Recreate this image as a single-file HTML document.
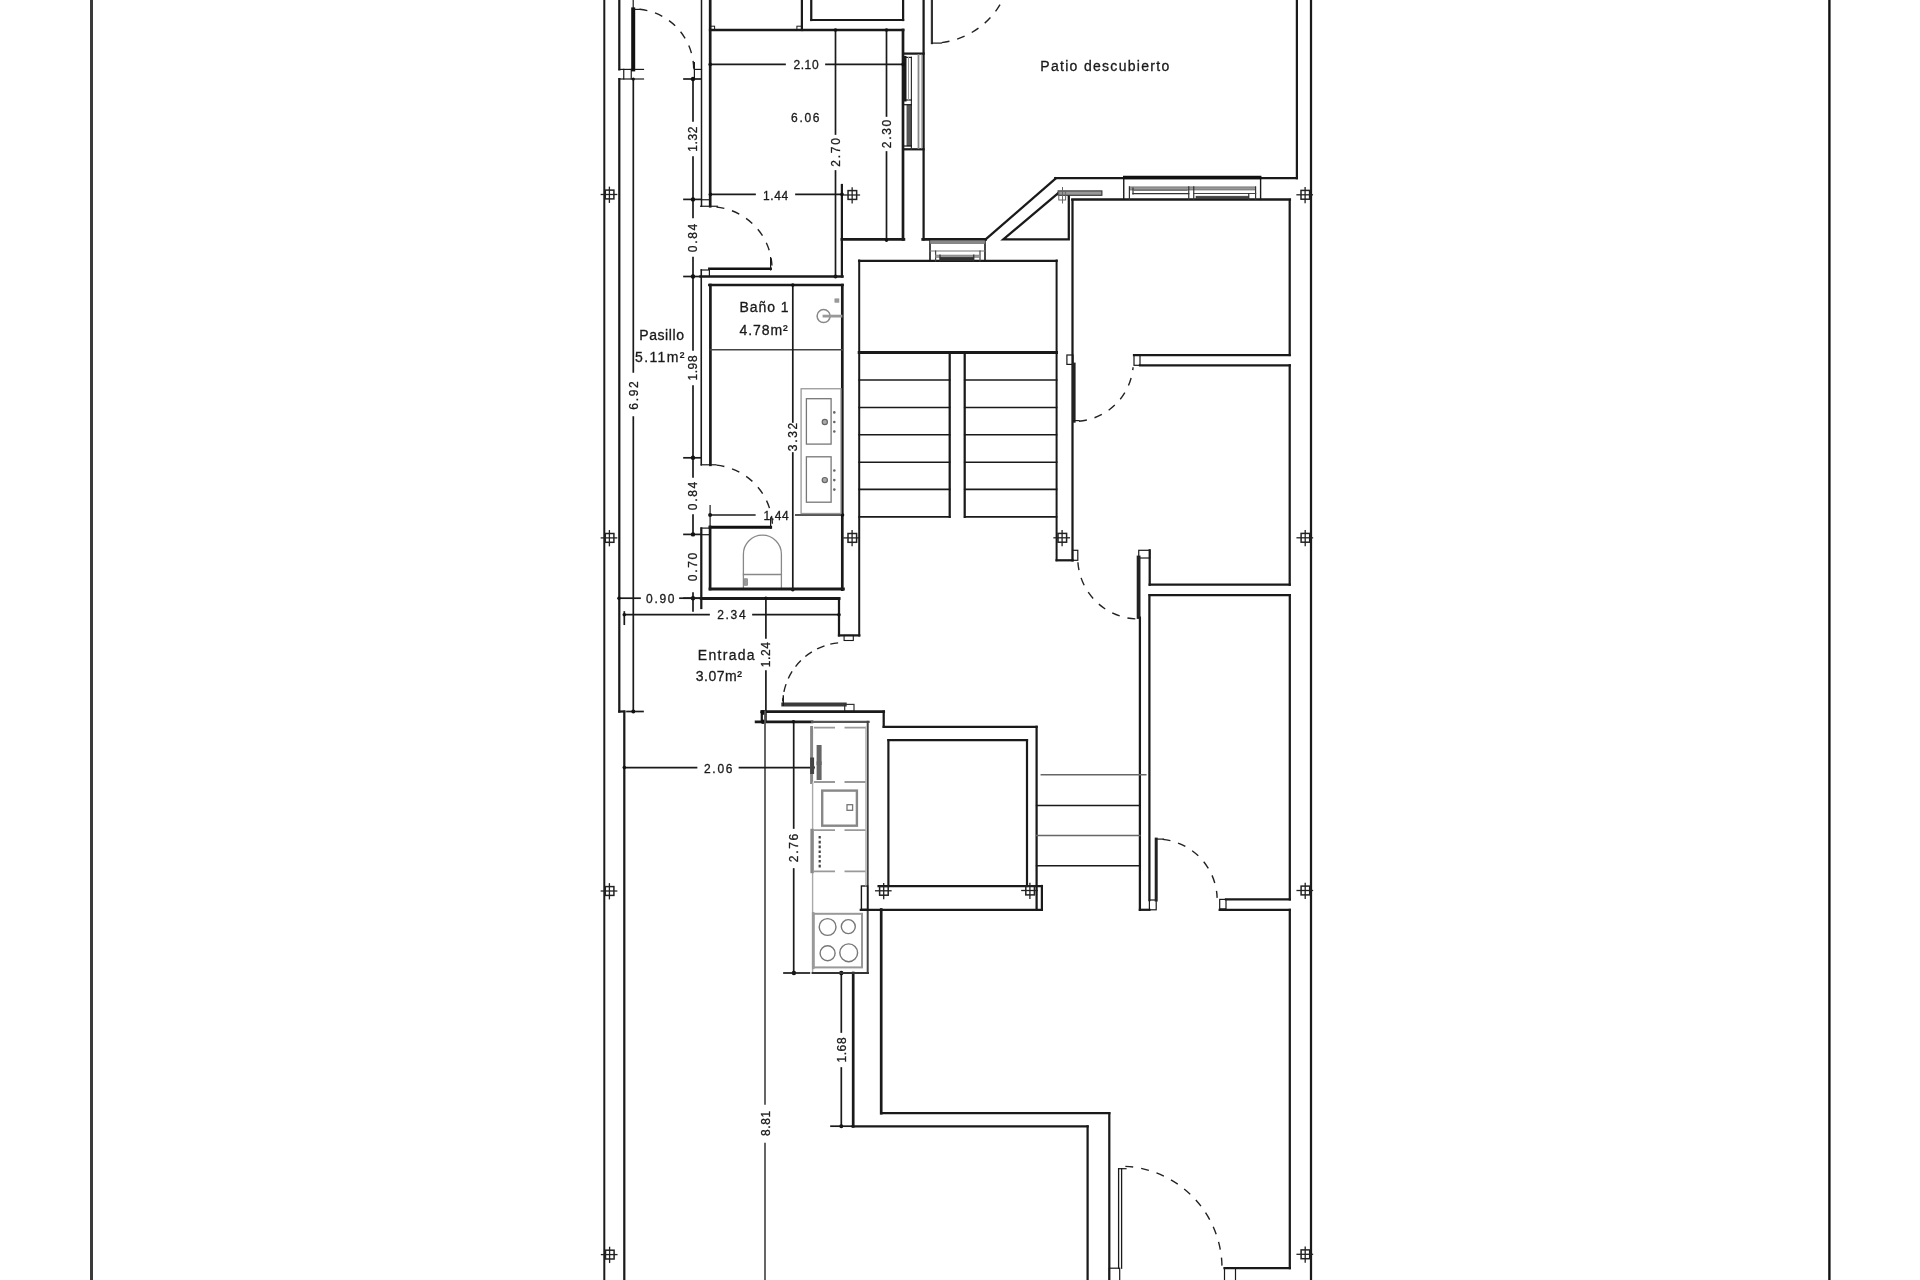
<!DOCTYPE html>
<html lang="es"><head><meta charset="utf-8"><title>Plano</title>
<style>
html,body{margin:0;padding:0;background:#fff;}
body{width:1920px;height:1280px;overflow:hidden;}
svg{display:block;font-family:"Liberation Sans",sans-serif;}
line,path{stroke-linecap:square;}
text{stroke:#1a1a1a;stroke-width:.3px;}
</style></head><body>
<svg width="1920" height="1280" viewBox="0 0 1920 1280" style="will-change:transform">
<rect width="1920" height="1280" fill="#fff"/>
<line x1="91.5" y1="0" x2="91.5" y2="1280" stroke="#3a3a3a" stroke-width="3"/>
<line x1="1829.4" y1="0" x2="1829.4" y2="1280" stroke="#111" stroke-width="2.4"/>
<line x1="604.3" y1="0" x2="604.3" y2="1280" stroke="#1a1a1a" stroke-width="2.0"/>
<line x1="619.3" y1="0" x2="619.3" y2="69.4" stroke="#1a1a1a" stroke-width="2.25"/>
<line x1="619.3" y1="79" x2="619.3" y2="711.5" stroke="#1a1a1a" stroke-width="2.25"/>
<line x1="619.2" y1="69.4" x2="643.5" y2="69.4" stroke="#1a1a1a" stroke-width="1.2"/>
<line x1="619.2" y1="79" x2="643.5" y2="79" stroke="#1a1a1a" stroke-width="1.2"/>
<line x1="623.75" y1="69.4" x2="623.75" y2="79" stroke="#1a1a1a" stroke-width="1.2"/>
<line x1="631.25" y1="69.4" x2="631.25" y2="79" stroke="#1a1a1a" stroke-width="1.2"/>
<line x1="633.2" y1="0" x2="633.2" y2="9.4" stroke="#1a1a1a" stroke-width="1.2"/>
<line x1="633.2" y1="9.4" x2="633.2" y2="69.4" stroke="#111" stroke-width="4"/>
<line x1="633.2" y1="9.4" x2="640" y2="9.4" stroke="#1a1a1a" stroke-width="1.2"/>
<path d="M639.52 9.23A60.5 60.5 0 0 1 693.70 69.40" fill="none" stroke="#222" stroke-width="1.4" stroke-dasharray="8 8" style="stroke-linecap:butt"/>
<line x1="619.3" y1="711.5" x2="624.3" y2="711.5" stroke="#1a1a1a" stroke-width="2.25"/>
<line x1="624.3" y1="711.5" x2="624.3" y2="1280" stroke="#1a1a1a" stroke-width="2.25"/>
<line x1="633.3" y1="79" x2="633.3" y2="372" stroke="#1a1a1a" stroke-width="1.7"/>
<line x1="633.3" y1="417" x2="633.3" y2="711.5" stroke="#1a1a1a" stroke-width="1.7"/>
<line x1="627" y1="711.5" x2="643" y2="711.5" stroke="#1a1a1a" stroke-width="1.7"/>
<text x="633.3" y="395.5" dy="4.32" dx="0.85" font-size="12" text-anchor="middle" fill="#1a1a1a" font-weight="normal" letter-spacing="1.7" transform="rotate(-90 633.3 395.5)">6.92</text>
<circle cx="633.3" cy="79" r="1.6" fill="#111"/>
<circle cx="633.3" cy="711.5" r="2" fill="#111"/>
<line x1="701.5" y1="0" x2="701.5" y2="206.25" stroke="#1a1a1a" stroke-width="1.5"/>
<line x1="710.2" y1="0" x2="710.2" y2="206.25" stroke="#1a1a1a" stroke-width="2.7"/>
<line x1="700.6" y1="206.25" x2="717.5" y2="206.25" stroke="#1a1a1a" stroke-width="1.2"/>
<line x1="701.5" y1="199.75" x2="710.2" y2="199.75" stroke="#1a1a1a" stroke-width="1.2"/>
<line x1="694.4" y1="69.4" x2="701.5" y2="69.4" stroke="#1a1a1a" stroke-width="1.2"/>
<line x1="694.4" y1="62.5" x2="694.4" y2="79" stroke="#1a1a1a" stroke-width="1.2"/>
<line x1="710.2" y1="30" x2="903.1" y2="30" stroke="#1a1a1a" stroke-width="2.7"/>
<rect x="710.2" y="26.2" width="4.4" height="3.8" fill="none" stroke="#1a1a1a" stroke-width="1"/>
<rect x="796.9" y="26.2" width="5.0" height="3.8" fill="none" stroke="#1a1a1a" stroke-width="1"/>
<line x1="801.9" y1="0" x2="801.9" y2="30" stroke="#1a1a1a" stroke-width="2.25"/>
<line x1="811.25" y1="0" x2="811.25" y2="20" stroke="#1a1a1a" stroke-width="2.25"/>
<line x1="811.25" y1="20" x2="903.1" y2="20" stroke="#1a1a1a" stroke-width="2.2"/>
<line x1="903.1" y1="0" x2="903.1" y2="20" stroke="#1a1a1a" stroke-width="2.25"/>
<line x1="903.0" y1="30" x2="903.0" y2="239.4" stroke="#1a1a1a" stroke-width="2.7"/>
<line x1="841.9" y1="239.4" x2="903.9" y2="239.4" stroke="#1a1a1a" stroke-width="2.7"/>
<line x1="922.7" y1="239.4" x2="985.6" y2="239.4" stroke="#1a1a1a" stroke-width="2.7"/>
<line x1="841.9" y1="185" x2="841.9" y2="276.5" stroke="#1a1a1a" stroke-width="2.25"/>
<line x1="923.6" y1="0" x2="923.6" y2="239.5" stroke="#1a1a1a" stroke-width="2.25"/>
<line x1="903.1" y1="53.6" x2="923.6" y2="53.6" stroke="#1a1a1a" stroke-width="2.25"/>
<line x1="903.1" y1="149.3" x2="923.6" y2="149.3" stroke="#1a1a1a" stroke-width="2.25"/>
<line x1="905.0" y1="57.4" x2="905.0" y2="100" stroke="#1a1a1a" stroke-width="3"/>
<rect x="906.9" y="104.7" width="4.5" height="41.3" fill="#555" stroke="#444" stroke-width="0.5"/>
<line x1="911.4" y1="57.4" x2="911.4" y2="149.3" stroke="#333" stroke-width="1.2"/>
<line x1="904" y1="57.4" x2="911.4" y2="57.4" stroke="#1a1a1a" stroke-width="1.2"/>
<line x1="903.1" y1="100" x2="911.4" y2="100" stroke="#1a1a1a" stroke-width="1.2"/>
<line x1="903.1" y1="104.7" x2="911.4" y2="104.7" stroke="#1a1a1a" stroke-width="1.2"/>
<line x1="903.1" y1="146" x2="911.4" y2="146" stroke="#1a1a1a" stroke-width="1.2"/>
<line x1="908.5" y1="57.4" x2="908.5" y2="100" stroke="#999" stroke-width="1"/>
<line x1="918.5" y1="55" x2="918.5" y2="148" stroke="#888" stroke-width="1.8"/>
<line x1="921.4" y1="55" x2="921.4" y2="148" stroke="#999" stroke-width="0.8"/>
<line x1="710.2" y1="64.4" x2="785" y2="64.4" stroke="#1a1a1a" stroke-width="1.7"/>
<line x1="826" y1="64.4" x2="903.1" y2="64.4" stroke="#1a1a1a" stroke-width="1.7"/>
<text x="806" y="68.8" dx="0.3" font-size="12" text-anchor="middle" fill="#1a1a1a" font-weight="normal" letter-spacing="0.6">2.10</text>
<circle cx="710.2" cy="64.4" r="1.8" fill="#111"/>
<circle cx="903.1" cy="64.4" r="1.8" fill="#111"/>
<line x1="835.5" y1="30" x2="835.5" y2="134" stroke="#1a1a1a" stroke-width="1.7"/>
<line x1="835.5" y1="171" x2="835.5" y2="276.5" stroke="#1a1a1a" stroke-width="1.7"/>
<text x="835.5" y="152.4" dy="4.32" dx="0.85" font-size="12" text-anchor="middle" fill="#1a1a1a" font-weight="normal" letter-spacing="1.7" transform="rotate(-90 835.5 152.4)">2.70</text>
<line x1="886.5" y1="30" x2="886.5" y2="116" stroke="#1a1a1a" stroke-width="1.7"/>
<line x1="886.5" y1="152" x2="886.5" y2="241" stroke="#1a1a1a" stroke-width="1.7"/>
<text x="886.5" y="134" dy="4.32" dx="0.85" font-size="12" text-anchor="middle" fill="#1a1a1a" font-weight="normal" letter-spacing="1.7" transform="rotate(-90 886.5 134)">2.30</text>
<circle cx="835.5" cy="30" r="1.8" fill="#111"/>
<circle cx="886.5" cy="30" r="1.8" fill="#111"/>
<circle cx="835.5" cy="276.5" r="2" fill="#111"/>
<circle cx="886.5" cy="240" r="1.8" fill="#111"/>
<text x="805.3" y="122.4" dx="0.85" font-size="12" text-anchor="middle" fill="#1a1a1a" font-weight="normal" letter-spacing="1.7">6.06</text>
<line x1="710.4" y1="194.4" x2="755" y2="194.4" stroke="#1a1a1a" stroke-width="1.7"/>
<line x1="796" y1="194.4" x2="842.5" y2="194.4" stroke="#1a1a1a" stroke-width="1.7"/>
<text x="775.6" y="199.6" dx="0.3" font-size="12" text-anchor="middle" fill="#1a1a1a" font-weight="normal" letter-spacing="0.6">1.44</text>
<circle cx="710.4" cy="194.4" r="1.8" fill="#111"/>
<circle cx="842" cy="194.4" r="1.8" fill="#111"/>
<line x1="693" y1="79" x2="693" y2="121" stroke="#1a1a1a" stroke-width="1.7"/>
<line x1="693" y1="157" x2="693" y2="199.4" stroke="#1a1a1a" stroke-width="1.7"/>
<line x1="693" y1="199.4" x2="693" y2="217.5" stroke="#1a1a1a" stroke-width="1.7"/>
<line x1="693" y1="257.5" x2="693" y2="276.5" stroke="#1a1a1a" stroke-width="1.7"/>
<line x1="693" y1="276.5" x2="693" y2="350" stroke="#1a1a1a" stroke-width="1.7"/>
<line x1="693" y1="386" x2="693" y2="457.8" stroke="#1a1a1a" stroke-width="1.7"/>
<line x1="693" y1="457.8" x2="693" y2="477" stroke="#1a1a1a" stroke-width="1.7"/>
<line x1="693" y1="515" x2="693" y2="534.4" stroke="#1a1a1a" stroke-width="1.7"/>
<line x1="693" y1="593" x2="693" y2="611" stroke="#1a1a1a" stroke-width="1.7"/>
<line x1="684" y1="79" x2="701" y2="79" stroke="#1a1a1a" stroke-width="1.7"/>
<circle cx="693" cy="79" r="2.2" fill="#111"/>
<line x1="684" y1="199.4" x2="701" y2="199.4" stroke="#1a1a1a" stroke-width="1.7"/>
<circle cx="693" cy="199.4" r="2.2" fill="#111"/>
<line x1="684" y1="276.5" x2="701" y2="276.5" stroke="#1a1a1a" stroke-width="1.7"/>
<circle cx="693" cy="276.5" r="2.2" fill="#111"/>
<line x1="684" y1="457.8" x2="701" y2="457.8" stroke="#1a1a1a" stroke-width="1.7"/>
<circle cx="693" cy="457.8" r="2.2" fill="#111"/>
<line x1="684" y1="534.4" x2="701" y2="534.4" stroke="#1a1a1a" stroke-width="1.7"/>
<circle cx="693" cy="534.4" r="2.2" fill="#111"/>
<line x1="684" y1="598.2" x2="701" y2="598.2" stroke="#1a1a1a" stroke-width="1.7"/>
<circle cx="693" cy="598.2" r="2.2" fill="#111"/>
<text x="693" y="139.2" dy="4.32" dx="0.3" font-size="12" text-anchor="middle" fill="#1a1a1a" font-weight="normal" letter-spacing="0.6" transform="rotate(-90 693 139.2)">1.32</text>
<text x="693" y="238" dy="4.32" dx="0.85" font-size="12" text-anchor="middle" fill="#1a1a1a" font-weight="normal" letter-spacing="1.7" transform="rotate(-90 693 238)">0.84</text>
<text x="693" y="368" dy="4.32" dx="0.3" font-size="12" text-anchor="middle" fill="#1a1a1a" font-weight="normal" letter-spacing="0.6" transform="rotate(-90 693 368)">1.98</text>
<text x="693" y="496" dy="4.32" dx="0.85" font-size="12" text-anchor="middle" fill="#1a1a1a" font-weight="normal" letter-spacing="1.7" transform="rotate(-90 693 496)">0.84</text>
<text x="693" y="567" dy="4.32" dx="0.85" font-size="12" text-anchor="middle" fill="#1a1a1a" font-weight="normal" letter-spacing="1.7" transform="rotate(-90 693 567)">0.70</text>
<path d="M716.48 207.09A62 62 0 0 1 771.92 265.51" fill="none" stroke="#222" stroke-width="1.4" stroke-dasharray="8 8" style="stroke-linecap:butt"/>
<line x1="709.4" y1="268.75" x2="770.6" y2="268.75" stroke="#111" stroke-width="2.6"/>
<line x1="770.6" y1="257.5" x2="770.6" y2="270" stroke="#1a1a1a" stroke-width="1.2"/>
<line x1="701.25" y1="270" x2="709.4" y2="270" stroke="#1a1a1a" stroke-width="1.2"/>
<line x1="709.4" y1="268.75" x2="709.4" y2="276.5" stroke="#1a1a1a" stroke-width="1.2"/>
<line x1="700.6" y1="276.5" x2="842.5" y2="276.5" stroke="#1a1a1a" stroke-width="2.6"/>
<line x1="701.25" y1="270" x2="701.25" y2="464.8" stroke="#1a1a1a" stroke-width="1.6"/>
<line x1="709.4" y1="285" x2="842.5" y2="285" stroke="#1a1a1a" stroke-width="2.6"/>
<line x1="710.4" y1="285" x2="710.4" y2="464.8" stroke="#1a1a1a" stroke-width="2.7"/>
<line x1="701.25" y1="464.8" x2="716" y2="464.8" stroke="#1a1a1a" stroke-width="1.2"/>
<line x1="842.3" y1="285" x2="842.3" y2="589.7" stroke="#1a1a1a" stroke-width="2.7"/>
<line x1="710.4" y1="349.8" x2="842.5" y2="349.8" stroke="#444" stroke-width="1.4"/>
<line x1="792.8" y1="285" x2="792.8" y2="422" stroke="#1a1a1a" stroke-width="1.7"/>
<line x1="792.8" y1="453" x2="792.8" y2="589.7" stroke="#1a1a1a" stroke-width="1.7"/>
<text x="792.8" y="437" dy="4.32" dx="0.85" font-size="12" text-anchor="middle" fill="#1a1a1a" font-weight="normal" letter-spacing="1.7" transform="rotate(-90 792.8 437)">3.32</text>
<circle cx="792.8" cy="285" r="1.8" fill="#111"/>
<circle cx="792.8" cy="589.7" r="1.8" fill="#111"/>
<line x1="710.1" y1="515" x2="754.7" y2="515" stroke="#555" stroke-width="1.9"/>
<line x1="795.9" y1="515" x2="842.5" y2="515" stroke="#555" stroke-width="1.9"/>
<text x="776.2" y="520.1" dx="0.3" font-size="12" text-anchor="middle" fill="#1a1a1a" font-weight="normal" letter-spacing="0.6">1.44</text>
<circle cx="710.1" cy="515" r="2" fill="#111"/>
<circle cx="842.5" cy="515" r="1.8" fill="#111"/>
<circle cx="823.6" cy="316.1" r="6.5" fill="none" stroke="#888" stroke-width="1.5"/>
<line x1="824" y1="316.1" x2="841" y2="316.1" stroke="#999" stroke-width="2.8"/>
<rect x="834.8" y="298.75" width="4.2" height="3.75" fill="#999" stroke="#999" stroke-width="0.5"/>
<rect x="801.1" y="388.75" width="39.9" height="124.75" fill="none" stroke="#999" stroke-width="1.3"/>
<rect x="806.4" y="398.7" width="24.7" height="45.4" fill="none" stroke="#777" stroke-width="1.3"/>
<circle cx="824.8" cy="422.0" r="2.6" fill="#aaa" stroke="#666" stroke-width="1.2"/>
<circle cx="834.3" cy="412.4" r="1.3" fill="#666"/>
<circle cx="834.3" cy="422.0" r="1.3" fill="#666"/>
<circle cx="834.3" cy="431.5" r="1.3" fill="#666"/>
<rect x="806.4" y="456.8" width="24.7" height="45.4" fill="none" stroke="#777" stroke-width="1.3"/>
<circle cx="824.8" cy="480.1" r="2.6" fill="#aaa" stroke="#666" stroke-width="1.2"/>
<circle cx="834.3" cy="470.5" r="1.3" fill="#666"/>
<circle cx="834.3" cy="480.1" r="1.3" fill="#666"/>
<circle cx="834.3" cy="489.6" r="1.3" fill="#666"/>
<path d="M743.4 588.6V554.2A19 19 0 0 1 781.4 554.2V588.6" fill="none" stroke="#888" stroke-width="1.3"/>
<line x1="743.4" y1="574.5" x2="781.4" y2="574.5" stroke="#888" stroke-width="1.3"/>
<rect x="744.4" y="578.75" width="3.2" height="6.55" fill="#999" stroke="#777" stroke-width="0.6"/>
<text x="739.6" y="311.9" font-size="14" text-anchor="start" fill="#1a1a1a" font-weight="normal" letter-spacing="0.9">Baño 1</text>
<text x="739.6" y="335.2" font-size="14" text-anchor="start" fill="#1a1a1a" font-weight="normal" letter-spacing="0.9">4.78m²</text>
<text x="639.2" y="340.2" font-size="14" text-anchor="start" fill="#1a1a1a" font-weight="normal" letter-spacing="0.6">Pasillo</text>
<text x="635" y="362" font-size="14" text-anchor="start" fill="#1a1a1a" font-weight="normal" letter-spacing="1.4">5.11m²</text>
<path d="M716.53 465.14A62.5 62.5 0 0 1 772.41 524.03" fill="none" stroke="#222" stroke-width="1.4" stroke-dasharray="8 8" style="stroke-linecap:butt"/>
<line x1="710.1" y1="527.2" x2="770.6" y2="527.2" stroke="#111" stroke-width="3"/>
<line x1="701.3" y1="528.1" x2="710" y2="528.1" stroke="#1a1a1a" stroke-width="1.2"/>
<line x1="770.6" y1="517.8" x2="770.6" y2="528.1" stroke="#1a1a1a" stroke-width="1.2"/>
<line x1="701.3" y1="534.7" x2="710" y2="534.7" stroke="#1a1a1a" stroke-width="1.2"/>
<line x1="701.3" y1="528.4" x2="701.3" y2="608" stroke="#1a1a1a" stroke-width="2.25"/>
<line x1="710.1" y1="505.6" x2="710.1" y2="527" stroke="#1a1a1a" stroke-width="1.2"/>
<line x1="710.1" y1="527" x2="710.1" y2="589" stroke="#1a1a1a" stroke-width="2.7"/>
<line x1="710.1" y1="589" x2="843.3" y2="589" stroke="#1a1a1a" stroke-width="3"/>
<line x1="701.3" y1="598.4" x2="839" y2="598.4" stroke="#1a1a1a" stroke-width="3"/>
<line x1="839" y1="598.4" x2="839" y2="635.4" stroke="#1a1a1a" stroke-width="2.25"/>
<line x1="839" y1="635.4" x2="859.3" y2="635.4" stroke="#1a1a1a" stroke-width="2.25"/>
<line x1="859.2" y1="260.6" x2="859.2" y2="635.4" stroke="#1a1a1a" stroke-width="2"/>
<rect x="844.1" y="635.4" width="9.2" height="5.1" fill="none" stroke="#1a1a1a" stroke-width="1.1"/>
<line x1="619" y1="598.2" x2="640" y2="598.2" stroke="#1a1a1a" stroke-width="1.7"/>
<line x1="680" y1="598.2" x2="701.3" y2="598.2" stroke="#1a1a1a" stroke-width="1.7"/>
<text x="660.3" y="602.6" dx="0.85" font-size="12" text-anchor="middle" fill="#1a1a1a" font-weight="normal" letter-spacing="1.7">0.90</text>
<circle cx="619" cy="598.2" r="1.8" fill="#111"/>
<line x1="624.3" y1="614.7" x2="709" y2="614.7" stroke="#1a1a1a" stroke-width="1.7"/>
<line x1="753" y1="614.7" x2="839" y2="614.7" stroke="#1a1a1a" stroke-width="1.7"/>
<text x="731.4" y="619.2" dx="0.85" font-size="12" text-anchor="middle" fill="#1a1a1a" font-weight="normal" letter-spacing="1.7">2.34</text>
<line x1="624.3" y1="612" x2="624.3" y2="624.2" stroke="#1a1a1a" stroke-width="1.7"/>
<circle cx="624.3" cy="614.7" r="1.8" fill="#111"/>
<circle cx="839" cy="614.7" r="1.8" fill="#111"/>
<line x1="765.9" y1="598.2" x2="765.9" y2="638" stroke="#1a1a1a" stroke-width="1.7"/>
<line x1="765.9" y1="671" x2="765.9" y2="721.8" stroke="#1a1a1a" stroke-width="1.7"/>
<text x="765.9" y="654.7" dy="4.32" dx="0.3" font-size="12" text-anchor="middle" fill="#1a1a1a" font-weight="normal" letter-spacing="0.6" transform="rotate(-90 765.9 654.7)">1.24</text>
<circle cx="765.9" cy="598.2" r="1.8" fill="#111"/>
<text x="697.8" y="659.8" font-size="14" text-anchor="start" fill="#1a1a1a" font-weight="normal" letter-spacing="1.3">Entrada</text>
<text x="695.8" y="681" font-size="14" text-anchor="start" fill="#1a1a1a" font-weight="normal" letter-spacing="0.5">3.07m²</text>
<line x1="783.3" y1="704.6" x2="844.7" y2="704.6" stroke="#3a3a3a" stroke-width="4"/>
<line x1="783.3" y1="696" x2="783.3" y2="705.3" stroke="#1a1a1a" stroke-width="1.4"/>
<path d="M838.12 642.84A62 62 0 0 0 782.68 701.26" fill="none" stroke="#222" stroke-width="1.4" stroke-dasharray="8 6" style="stroke-linecap:butt"/>
<rect x="844.7" y="704.4" width="9.3" height="7.0" fill="none" stroke="#333" stroke-width="1.2"/>
<line x1="761.8" y1="711.6" x2="883.7" y2="711.6" stroke="#1a1a1a" stroke-width="2.7"/>
<line x1="761.8" y1="711.6" x2="761.8" y2="721.8" stroke="#1a1a1a" stroke-width="2.25"/>
<line x1="756.1" y1="721.9" x2="812" y2="721.9" stroke="#1a1a1a" stroke-width="2.7"/>
<line x1="812" y1="721.9" x2="868.6" y2="721.9" stroke="#555" stroke-width="2.2"/>
<line x1="867.7" y1="721.8" x2="867.7" y2="973" stroke="#444" stroke-width="2"/>
<circle cx="763" cy="712.5" r="2.4" fill="#111"/>
<circle cx="763" cy="721.8" r="2.2" fill="#111"/>
<line x1="883.7" y1="711.6" x2="883.7" y2="726.8" stroke="#1a1a1a" stroke-width="2.25"/>
<line x1="883.7" y1="726.8" x2="1036.6" y2="726.8" stroke="#1a1a1a" stroke-width="2.2"/>
<line x1="1036.6" y1="726.8" x2="1036.6" y2="909.8" stroke="#1a1a1a" stroke-width="2.25"/>
<line x1="888.4" y1="740.2" x2="1027" y2="740.2" stroke="#1a1a1a" stroke-width="2.2"/>
<line x1="888.4" y1="740.2" x2="888.4" y2="886" stroke="#1a1a1a" stroke-width="2.2"/>
<line x1="1027" y1="740.2" x2="1027" y2="886" stroke="#1a1a1a" stroke-width="2.2"/>
<line x1="878.6" y1="886" x2="1041.9" y2="886" stroke="#1a1a1a" stroke-width="2.25"/>
<line x1="860.8" y1="909.8" x2="1041.9" y2="909.8" stroke="#1a1a1a" stroke-width="2.25"/>
<line x1="1041.9" y1="886" x2="1041.9" y2="909.8" stroke="#1a1a1a" stroke-width="2.25"/>
<rect x="861.4" y="886" width="6.3" height="23.4" fill="none" stroke="#1a1a1a" stroke-width="1.4"/>
<line x1="881.2" y1="909.5" x2="881.2" y2="1113.2" stroke="#1a1a1a" stroke-width="2.7"/>
<line x1="881.2" y1="1113.2" x2="1109.3" y2="1113.2" stroke="#1a1a1a" stroke-width="2.25"/>
<line x1="1109.3" y1="1113.2" x2="1109.3" y2="1280" stroke="#1a1a1a" stroke-width="2.25"/>
<line x1="853.2" y1="973" x2="853.2" y2="1126.4" stroke="#1a1a1a" stroke-width="2.7"/>
<line x1="852.6" y1="1126.4" x2="1087.6" y2="1126.4" stroke="#1a1a1a" stroke-width="2.25"/>
<line x1="1087.6" y1="1126.4" x2="1087.6" y2="1280" stroke="#1a1a1a" stroke-width="2.25"/>
<line x1="765" y1="711.6" x2="765" y2="1103.75" stroke="#555" stroke-width="1.8"/>
<line x1="765" y1="1143.75" x2="765" y2="1280" stroke="#555" stroke-width="1.8"/>
<text x="765.2" y="1123.4" dy="4.32" dx="0.3" font-size="12" text-anchor="middle" fill="#1a1a1a" font-weight="normal" letter-spacing="0.6" transform="rotate(-90 765.2 1123.4)">8.81</text>
<line x1="793.7" y1="721.8" x2="793.7" y2="828" stroke="#1a1a1a" stroke-width="1.7"/>
<line x1="793.7" y1="869" x2="793.7" y2="973" stroke="#1a1a1a" stroke-width="1.7"/>
<text x="793.5" y="848" dy="4.32" dx="0.85" font-size="12" text-anchor="middle" fill="#1a1a1a" font-weight="normal" letter-spacing="1.7" transform="rotate(-90 793.5 848)">2.76</text>
<circle cx="793.5" cy="721.8" r="1.8" fill="#111"/>
<circle cx="793.9" cy="973" r="2.2" fill="#111"/>
<line x1="784" y1="973" x2="809.4" y2="973" stroke="#1a1a1a" stroke-width="1.7"/>
<line x1="624.3" y1="767.6" x2="696.5" y2="767.6" stroke="#1a1a1a" stroke-width="1.7"/>
<line x1="739.5" y1="767.6" x2="812.6" y2="767.6" stroke="#1a1a1a" stroke-width="1.7"/>
<text x="718.2" y="772.6" dx="0.85" font-size="12" text-anchor="middle" fill="#1a1a1a" font-weight="normal" letter-spacing="1.7">2.06</text>
<circle cx="624.3" cy="767.6" r="1.8" fill="#111"/>
<circle cx="812.6" cy="767.6" r="2.2" fill="#111"/>
<line x1="841.3" y1="973" x2="841.3" y2="1032" stroke="#1a1a1a" stroke-width="1.7"/>
<line x1="841.3" y1="1068" x2="841.3" y2="1126.2" stroke="#1a1a1a" stroke-width="1.7"/>
<text x="841.3" y="1050" dy="4.32" dx="0.3" font-size="12" text-anchor="middle" fill="#1a1a1a" font-weight="normal" letter-spacing="0.6" transform="rotate(-90 841.3 1050)">1.68</text>
<circle cx="841.3" cy="973" r="2.2" fill="#111"/>
<circle cx="841.3" cy="1126.2" r="2" fill="#111"/>
<line x1="831" y1="1126.2" x2="852.6" y2="1126.2" stroke="#1a1a1a" stroke-width="1.7"/>
<line x1="811.6" y1="727.5" x2="811.6" y2="782.5" stroke="#888" stroke-width="3"/>
<line x1="812.6" y1="782.5" x2="812.6" y2="973" stroke="#aaa" stroke-width="1.4"/>
<line x1="865.8" y1="727" x2="865.8" y2="886" stroke="#aaa" stroke-width="1"/>
<line x1="814" y1="727.6" x2="866.5" y2="727.6" stroke="#999" stroke-width="1.8" stroke-dasharray="21 9.5" style="stroke-linecap:butt"/>
<line x1="814" y1="782" x2="866.5" y2="782" stroke="#999" stroke-width="1.8" stroke-dasharray="21 9.5" style="stroke-linecap:butt"/>
<line x1="814" y1="830.2" x2="866.5" y2="830.2" stroke="#999" stroke-width="1.8" stroke-dasharray="21 9.5" style="stroke-linecap:butt"/>
<line x1="814" y1="871.4" x2="866.5" y2="871.4" stroke="#999" stroke-width="1.8" stroke-dasharray="21 9.5" style="stroke-linecap:butt"/>
<rect x="822.2" y="790.6" width="34.7" height="35.1" fill="none" stroke="#888" stroke-width="2.4"/>
<rect x="847" y="804.7" width="5.6" height="5.6" fill="none" stroke="#777" stroke-width="1.3"/>
<line x1="812.1" y1="759.5" x2="812.1" y2="772" stroke="#444" stroke-width="4"/>
<line x1="819.1" y1="747.5" x2="819.1" y2="762.5" stroke="#666" stroke-width="5"/>
<line x1="819.1" y1="763.9" x2="819.1" y2="777.5" stroke="#666" stroke-width="5"/>
<line x1="819.7" y1="836" x2="819.7" y2="868" stroke="#444" stroke-width="2.2" stroke-dasharray="2.6 2.2" style="stroke-linecap:butt"/>
<line x1="812.1" y1="830.5" x2="812.1" y2="871.5" stroke="#888" stroke-width="3.4"/>
<rect x="813.6" y="913.8" width="48.4" height="53.6" fill="none" stroke="#999" stroke-width="2"/>
<line x1="813.2" y1="913.4" x2="813.2" y2="967.8" stroke="#999" stroke-width="2.6"/>
<circle cx="827.6" cy="927" r="8.4" fill="none" stroke="#777" stroke-width="1.4"/>
<circle cx="848.3" cy="926.6" r="7" fill="none" stroke="#777" stroke-width="1.4"/>
<circle cx="827.6" cy="953.3" r="7.5" fill="none" stroke="#777" stroke-width="1.4"/>
<circle cx="848.7" cy="952.8" r="8.9" fill="none" stroke="#777" stroke-width="1.4"/>
<line x1="812.5" y1="973" x2="868" y2="973" stroke="#333" stroke-width="1.8"/>
<line x1="859.1" y1="260.8" x2="1056.6" y2="260.8" stroke="#1a1a1a" stroke-width="2.25"/>
<line x1="1056.6" y1="260.6" x2="1056.6" y2="560.3" stroke="#1a1a1a" stroke-width="2"/>
<line x1="859.1" y1="352.5" x2="1056.6" y2="352.5" stroke="#1a1a1a" stroke-width="2.8"/>
<line x1="949.7" y1="352.5" x2="949.7" y2="516.9" stroke="#1a1a1a" stroke-width="2.25"/>
<line x1="964.7" y1="352.5" x2="964.7" y2="516.9" stroke="#1a1a1a" stroke-width="2.25"/>
<line x1="859.1" y1="380" x2="949.7" y2="380" stroke="#1a1a1a" stroke-width="1.6"/>
<line x1="964.7" y1="380" x2="1056.6" y2="380" stroke="#1a1a1a" stroke-width="1.6"/>
<line x1="859.1" y1="407.5" x2="949.7" y2="407.5" stroke="#1a1a1a" stroke-width="1.6"/>
<line x1="964.7" y1="407.5" x2="1056.6" y2="407.5" stroke="#1a1a1a" stroke-width="1.6"/>
<line x1="859.1" y1="434.7" x2="949.7" y2="434.7" stroke="#1a1a1a" stroke-width="1.6"/>
<line x1="964.7" y1="434.7" x2="1056.6" y2="434.7" stroke="#1a1a1a" stroke-width="1.6"/>
<line x1="859.1" y1="462.2" x2="949.7" y2="462.2" stroke="#1a1a1a" stroke-width="1.6"/>
<line x1="964.7" y1="462.2" x2="1056.6" y2="462.2" stroke="#1a1a1a" stroke-width="1.6"/>
<line x1="859.1" y1="489.4" x2="949.7" y2="489.4" stroke="#1a1a1a" stroke-width="1.6"/>
<line x1="964.7" y1="489.4" x2="1056.6" y2="489.4" stroke="#1a1a1a" stroke-width="1.6"/>
<line x1="859.1" y1="516.9" x2="949.7" y2="516.9" stroke="#1a1a1a" stroke-width="1.6"/>
<line x1="964.7" y1="516.9" x2="1056.6" y2="516.9" stroke="#1a1a1a" stroke-width="1.6"/>
<line x1="1072.5" y1="200" x2="1072.5" y2="560.3" stroke="#1a1a1a" stroke-width="2.25"/>
<line x1="1056.6" y1="560.3" x2="1072.5" y2="560.3" stroke="#1a1a1a" stroke-width="2.25"/>
<line x1="985.6" y1="239.4" x2="1055.8" y2="178.3" stroke="#1a1a1a" stroke-width="2.25"/>
<line x1="1055.2" y1="178.2" x2="1296.9" y2="178.2" stroke="#1a1a1a" stroke-width="2.25"/>
<line x1="1296.9" y1="0" x2="1296.9" y2="178.2" stroke="#1a1a1a" stroke-width="2.25"/>
<line x1="1311" y1="0" x2="1311" y2="1280" stroke="#1a1a1a" stroke-width="2.25"/>
<path d="M1058.5 192.8L1003.3 239.4H1068.8V195.6" fill="none" stroke="#1a1a1a" stroke-width="2.25"/>
<rect x="1058.1" y="190.9" width="43.8" height="4.4" fill="#999" stroke="#333" stroke-width="1.1"/>
<rect x="1058.8" y="191.3" width="6.8" height="8.7" fill="none" stroke="#666" stroke-width="1"/>
<line x1="1062.5" y1="187.5" x2="1062.5" y2="203" stroke="#666" stroke-width="1"/>
<line x1="1072.5" y1="199.5" x2="1289.7" y2="199.5" stroke="#1a1a1a" stroke-width="2.7"/>
<line x1="1289.7" y1="200" x2="1289.7" y2="355" stroke="#1a1a1a" stroke-width="2.25"/>
<line x1="931.9" y1="0" x2="931.9" y2="43.1" stroke="#333" stroke-width="2.2"/>
<line x1="931.9" y1="43.1" x2="941.25" y2="43.1" stroke="#1a1a1a" stroke-width="1.2"/>
<path d="M941.59 42.61A79.5 79.5 0 0 0 1002.74 -0.21" fill="none" stroke="#222" stroke-width="1.4" stroke-dasharray="8 8" style="stroke-linecap:butt"/>
<line x1="1123.75" y1="177" x2="1123.75" y2="199.4" stroke="#1a1a1a" stroke-width="1.4"/>
<line x1="1260.6" y1="177" x2="1260.6" y2="199.4" stroke="#1a1a1a" stroke-width="1.4"/>
<line x1="1124.8" y1="177.5" x2="1259.5" y2="177.5" stroke="#111" stroke-width="3.6"/>
<rect x="1129.4" y="186.9" width="126.2" height="3.1" fill="#999" stroke="#555" stroke-width="0.6"/>
<line x1="1129.4" y1="186.9" x2="1129.4" y2="199.4" stroke="#333" stroke-width="1.2"/>
<line x1="1255.6" y1="186.9" x2="1255.6" y2="199.4" stroke="#333" stroke-width="1.2"/>
<line x1="1188.75" y1="186.9" x2="1188.75" y2="199.4" stroke="#333" stroke-width="1.2"/>
<line x1="1193.75" y1="186.9" x2="1193.75" y2="199.4" stroke="#333" stroke-width="1.2"/>
<line x1="1133" y1="193.7" x2="1188.75" y2="193.7" stroke="#333" stroke-width="1.2"/>
<line x1="1133" y1="188" x2="1133" y2="194" stroke="#333" stroke-width="1.2"/>
<line x1="1133" y1="190.3" x2="1187" y2="190.3" stroke="#666" stroke-width="1"/>
<line x1="1193.75" y1="193.5" x2="1255.6" y2="193.5" stroke="#444" stroke-width="1.2"/>
<rect x="1196" y="196.2" width="52.75" height="2.6" fill="#444" stroke="#333" stroke-width="0.6"/>
<line x1="1248.75" y1="193.5" x2="1248.75" y2="199.4" stroke="#333" stroke-width="1.2"/>
<line x1="930" y1="239.4" x2="930" y2="261" stroke="#1a1a1a" stroke-width="1.6"/>
<line x1="985" y1="239.4" x2="985" y2="261" stroke="#1a1a1a" stroke-width="1.6"/>
<rect x="930" y="240.6" width="55" height="3.15" fill="#888" stroke="#666" stroke-width="0.5"/>
<line x1="930" y1="251" x2="985" y2="251" stroke="#777" stroke-width="1"/>
<line x1="935.6" y1="251" x2="935.6" y2="261" stroke="#444" stroke-width="1.2"/>
<line x1="980" y1="251" x2="980" y2="261" stroke="#444" stroke-width="1.2"/>
<rect x="935.6" y="255" width="44.4" height="2.5" fill="#999" stroke="#777" stroke-width="0.5"/>
<rect x="940" y="257.5" width="33.75" height="3.5" fill="#333" stroke="#222" stroke-width="0.6"/>
<line x1="940" y1="255" x2="940" y2="261" stroke="#333" stroke-width="1.2"/>
<line x1="973.75" y1="255" x2="973.75" y2="261" stroke="#333" stroke-width="1.2"/>
<text x="1040.3" y="70.6" font-size="14" text-anchor="start" fill="#1a1a1a" font-weight="normal" letter-spacing="1.3">Patio descubierto</text>
<line x1="1134" y1="355" x2="1289.7" y2="355" stroke="#1a1a1a" stroke-width="2.25"/>
<line x1="1140" y1="365.3" x2="1289.7" y2="365.3" stroke="#1a1a1a" stroke-width="2.25"/>
<rect x="1134" y="355" width="6" height="10.3" fill="none" stroke="#1a1a1a" stroke-width="1.2"/>
<line x1="1289.7" y1="365.3" x2="1289.7" y2="584.7" stroke="#1a1a1a" stroke-width="2.25"/>
<line x1="1149.7" y1="584.7" x2="1289.7" y2="584.7" stroke="#1a1a1a" stroke-width="2.25"/>
<line x1="1149.7" y1="595" x2="1289.7" y2="595" stroke="#1a1a1a" stroke-width="2.25"/>
<line x1="1149.7" y1="550.3" x2="1149.7" y2="584.7" stroke="#1a1a1a" stroke-width="2.25"/>
<line x1="1149.4" y1="595" x2="1149.4" y2="900" stroke="#1a1a1a" stroke-width="2.25"/>
<rect x="1138.75" y="550.3" width="10.95" height="7.7" fill="none" stroke="#1a1a1a" stroke-width="1.2"/>
<line x1="1138.6" y1="557.5" x2="1138.6" y2="617" stroke="#222" stroke-width="3.8"/>
<line x1="1139.9" y1="617.5" x2="1139.9" y2="909.8" stroke="#1a1a1a" stroke-width="2.25"/>
<path d="M1077.90 562.26A61 61 0 0 0 1135.56 618.92" fill="none" stroke="#222" stroke-width="1.4" stroke-dasharray="8 8" style="stroke-linecap:butt"/>
<rect x="1072.5" y="550.3" width="5.3" height="10.0" fill="none" stroke="#1a1a1a" stroke-width="1.2"/>
<rect x="1066.9" y="355" width="6.1" height="9.4" fill="none" stroke="#1a1a1a" stroke-width="1.2"/>
<line x1="1073.8" y1="364.4" x2="1073.8" y2="420.9" stroke="#222" stroke-width="3.6"/>
<line x1="1073.8" y1="420.6" x2="1079" y2="420.6" stroke="#1a1a1a" stroke-width="1.2"/>
<path d="M1078.99 421.27A59.5 59.5 0 0 0 1133.07 367.19" fill="none" stroke="#222" stroke-width="1.4" stroke-dasharray="8 8" style="stroke-linecap:butt"/>
<line x1="1139.9" y1="909.8" x2="1149.4" y2="909.8" stroke="#1a1a1a" stroke-width="2.25"/>
<rect x="1149.4" y="900" width="6.8" height="9.8" fill="none" stroke="#1a1a1a" stroke-width="1.2"/>
<line x1="1156.2" y1="839.1" x2="1156.2" y2="900" stroke="#222" stroke-width="3"/>
<line x1="1156.2" y1="839.1" x2="1163.6" y2="839.1" stroke="#1a1a1a" stroke-width="1.2"/>
<path d="M1162.58 839.33A61 61 0 0 1 1217.16 897.87" fill="none" stroke="#222" stroke-width="1.4" stroke-dasharray="8 8" style="stroke-linecap:butt"/>
<rect x="1219.7" y="899.4" width="6.3" height="9.5" fill="none" stroke="#1a1a1a" stroke-width="1.2"/>
<line x1="1226" y1="899.4" x2="1289.8" y2="899.4" stroke="#1a1a1a" stroke-width="2.25"/>
<line x1="1219.7" y1="909.8" x2="1289.8" y2="909.8" stroke="#1a1a1a" stroke-width="2.25"/>
<line x1="1289.8" y1="595" x2="1289.8" y2="899.4" stroke="#1a1a1a" stroke-width="2.25"/>
<line x1="1289.8" y1="909.8" x2="1289.8" y2="1268.2" stroke="#1a1a1a" stroke-width="2.25"/>
<line x1="1041.3" y1="774.7" x2="1145.8" y2="774.7" stroke="#666" stroke-width="1.5"/>
<line x1="1036.6" y1="805.5" x2="1139.9" y2="805.5" stroke="#1a1a1a" stroke-width="1.5"/>
<line x1="1036.6" y1="835.5" x2="1139.9" y2="835.5" stroke="#666" stroke-width="1.5"/>
<line x1="1036.6" y1="865.8" x2="1139.9" y2="865.8" stroke="#1a1a1a" stroke-width="1.5"/>
<line x1="1118.6" y1="1168.7" x2="1118.6" y2="1268.2" stroke="#1a1a1a" stroke-width="1.3"/>
<line x1="1121.6" y1="1168.7" x2="1121.6" y2="1268.2" stroke="#1a1a1a" stroke-width="1.3"/>
<line x1="1118.6" y1="1168.7" x2="1126" y2="1168.7" stroke="#1a1a1a" stroke-width="1.2"/>
<path d="M1125.34 1166.34A102 102 0 0 1 1222.00 1268.20" fill="none" stroke="#222" stroke-width="1.4" stroke-dasharray="8 8" style="stroke-linecap:butt"/>
<line x1="1224.5" y1="1268.2" x2="1289.8" y2="1268.2" stroke="#1a1a1a" stroke-width="2.25"/>
<rect x="1224.5" y="1268.2" width="11.0" height="13.8" fill="none" stroke="#1a1a1a" stroke-width="1.2"/>
<rect x="1109.3" y="1268.2" width="10.4" height="13.8" fill="none" stroke="#1a1a1a" stroke-width="1.2"/>
<rect x="605.3" y="190.1" width="8.6" height="8.8" fill="none" stroke="#222" stroke-width="1.5"/>
<line x1="601.3" y1="194.5" x2="616.7" y2="194.5" stroke="#222" stroke-width="1.3"/>
<line x1="609.4" y1="187.3" x2="609.4" y2="202.3" stroke="#222" stroke-width="1.3"/>
<rect x="848.05" y="190.6" width="8.6" height="8.8" fill="none" stroke="#222" stroke-width="1.5"/>
<line x1="844.05" y1="195" x2="859.45" y2="195" stroke="#222" stroke-width="1.3"/>
<line x1="852.15" y1="187.8" x2="852.15" y2="202.8" stroke="#222" stroke-width="1.3"/>
<rect x="1301.0" y="190.4" width="8.6" height="8.8" fill="none" stroke="#222" stroke-width="1.5"/>
<line x1="1297.0" y1="194.8" x2="1312.4" y2="194.8" stroke="#222" stroke-width="1.3"/>
<line x1="1305.1000000000001" y1="187.60000000000002" x2="1305.1000000000001" y2="202.60000000000002" stroke="#222" stroke-width="1.3"/>
<rect x="605.3" y="533.5" width="8.6" height="8.8" fill="none" stroke="#222" stroke-width="1.5"/>
<line x1="601.3" y1="537.9" x2="616.7" y2="537.9" stroke="#222" stroke-width="1.3"/>
<line x1="609.4" y1="530.6999999999999" x2="609.4" y2="545.6999999999999" stroke="#222" stroke-width="1.3"/>
<rect x="848.0" y="533.5" width="8.6" height="8.8" fill="none" stroke="#222" stroke-width="1.5"/>
<line x1="844.0" y1="537.9" x2="859.4000000000001" y2="537.9" stroke="#222" stroke-width="1.3"/>
<line x1="852.1" y1="530.6999999999999" x2="852.1" y2="545.6999999999999" stroke="#222" stroke-width="1.3"/>
<rect x="1058.0" y="533.4" width="8.6" height="8.8" fill="none" stroke="#222" stroke-width="1.5"/>
<line x1="1054.0" y1="537.8" x2="1069.4" y2="537.8" stroke="#222" stroke-width="1.3"/>
<line x1="1062.1000000000001" y1="530.5999999999999" x2="1062.1000000000001" y2="545.5999999999999" stroke="#222" stroke-width="1.3"/>
<rect x="1301.1" y="533.4" width="8.6" height="8.8" fill="none" stroke="#222" stroke-width="1.5"/>
<line x1="1297.1" y1="537.8" x2="1312.5" y2="537.8" stroke="#222" stroke-width="1.3"/>
<line x1="1305.2" y1="530.5999999999999" x2="1305.2" y2="545.5999999999999" stroke="#222" stroke-width="1.3"/>
<rect x="605.3" y="886.6" width="8.6" height="8.8" fill="none" stroke="#222" stroke-width="1.5"/>
<line x1="601.3" y1="891" x2="616.7" y2="891" stroke="#222" stroke-width="1.3"/>
<line x1="609.4" y1="883.8" x2="609.4" y2="898.8" stroke="#222" stroke-width="1.3"/>
<rect x="879.5999999999999" y="886.4" width="8.6" height="8.8" fill="none" stroke="#222" stroke-width="1.5"/>
<line x1="875.5999999999999" y1="890.8" x2="891.0" y2="890.8" stroke="#222" stroke-width="1.3"/>
<line x1="883.6999999999999" y1="883.5999999999999" x2="883.6999999999999" y2="898.5999999999999" stroke="#222" stroke-width="1.3"/>
<rect x="1025.8" y="886.1" width="8.6" height="8.8" fill="none" stroke="#222" stroke-width="1.5"/>
<line x1="1021.8" y1="890.5" x2="1037.2" y2="890.5" stroke="#222" stroke-width="1.3"/>
<line x1="1029.9" y1="883.3" x2="1029.9" y2="898.3" stroke="#222" stroke-width="1.3"/>
<rect x="1301.1" y="886.1" width="8.6" height="8.8" fill="none" stroke="#222" stroke-width="1.5"/>
<line x1="1297.1" y1="890.5" x2="1312.5" y2="890.5" stroke="#222" stroke-width="1.3"/>
<line x1="1305.2" y1="883.3" x2="1305.2" y2="898.3" stroke="#222" stroke-width="1.3"/>
<rect x="605.5" y="1250.1999999999998" width="8.6" height="8.8" fill="none" stroke="#222" stroke-width="1.5"/>
<line x1="601.5" y1="1254.6" x2="616.9000000000001" y2="1254.6" stroke="#222" stroke-width="1.3"/>
<line x1="609.6" y1="1247.3999999999999" x2="609.6" y2="1262.3999999999999" stroke="#222" stroke-width="1.3"/>
<rect x="1301.1" y="1249.8999999999999" width="8.6" height="8.8" fill="none" stroke="#222" stroke-width="1.5"/>
<line x1="1297.1" y1="1254.3" x2="1312.5" y2="1254.3" stroke="#222" stroke-width="1.3"/>
<line x1="1305.2" y1="1247.1" x2="1305.2" y2="1262.1" stroke="#222" stroke-width="1.3"/>
</svg>
</body></html>
